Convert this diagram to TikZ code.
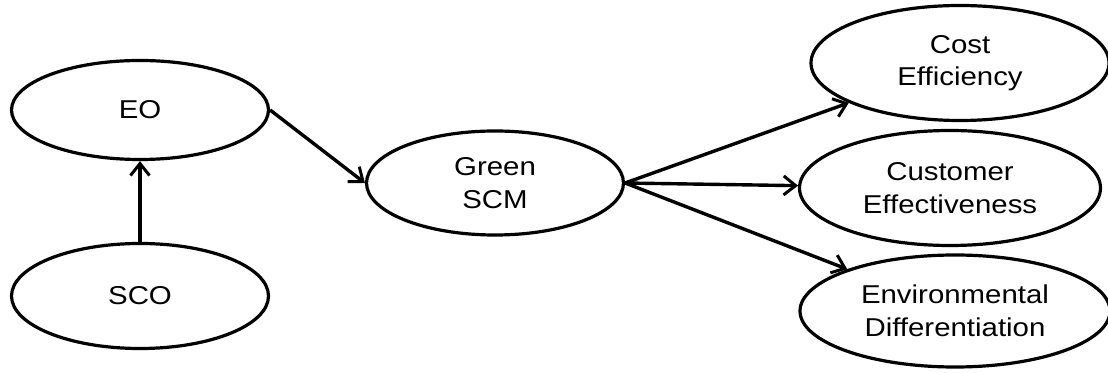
\documentclass[tikz,border=0pt]{standalone}
\usepackage{fontspec}
\setmainfont{Liberation Sans}[FakeStretch=1.14]
\usetikzlibrary{shapes.geometric,arrows.meta}

\begin{document}
\begin{tikzpicture}[x=0.5pt,y=-0.5pt,
  construct/.style={draw,ellipse,line width=1.6pt,inner sep=0pt,align=center,
    font=\fontsize{12.9}{16.3}\selectfont},
  link/.style={-{Straight Barb[length=6pt,width=9.5pt,line width=1.5pt]},line width=1.7pt}]
\useasboundingbox (0,0) rectangle (1108,373);
% constructs
\node[construct,minimum width=128.5pt,minimum height=49.5pt] (eo) at (140,110) {EO};
\node[construct,minimum width=128.5pt,minimum height=52.5pt] (sco) at (140,296) {SCO};
\node[construct,minimum width=128.5pt,minimum height=52pt] (green) at (495,183) {Green\\SCM};
\node[construct,minimum width=149pt,minimum height=57.5pt] (cost) at (960,63) {Cost\\Efficiency};
\node[construct,minimum width=150.5pt,minimum height=57.5pt] (cust) at (950,188) {Customer\\Effectiveness};
\node[construct,minimum width=155pt,minimum height=56pt] (env) at (955,311) {Environmental\\Differentiation};
% paths
\draw[link] (sco) -- (eo);
\draw[link] (eo.east) -- (green.west);
\draw[link] (green.east) -- (cost);
\draw[link] (green.east) -- (cust);
\draw[link] (green.east) -- (env);
\end{tikzpicture}
\end{document}
